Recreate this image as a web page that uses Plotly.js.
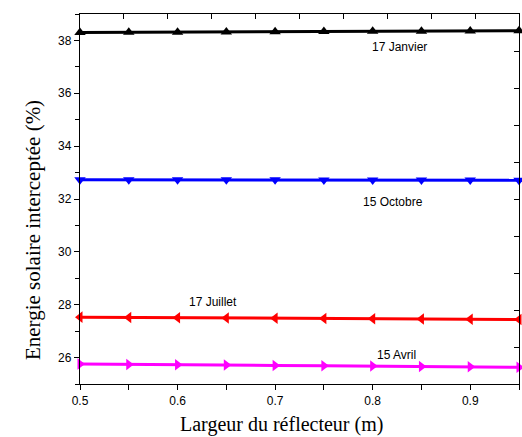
<!DOCTYPE html>
<html>
<head>
<meta charset="utf-8">
<script src="https://cdn.plot.ly/plotly-3.0.1.min.js"></script>
<style>html,body{margin:0;padding:0;background:#fff;}</style>
</head>
<body>
<div id="chart" style="width:522px;height:437px;"></div>
<script>
const largeur = [0.5, 0.55, 0.6, 0.65, 0.7, 0.75, 0.8, 0.85, 0.9, 0.95];
const janvier = [38.30, 38.31, 38.31, 38.32, 38.33, 38.34, 38.35, 38.35, 38.36, 38.37];
const octobre = [32.73, 32.73, 32.73, 32.73, 32.73, 32.72, 32.72, 32.72, 32.72, 32.71];
const juillet = [27.53, 27.52, 27.51, 27.50, 27.49, 27.48, 27.47, 27.46, 27.45, 27.44];
const avril   = [25.76, 25.74, 25.73, 25.72, 25.70, 25.69, 25.68, 25.66, 25.65, 25.63];
const seriesNames = ["17 Janvier", "15 Octobre", "17 Juillet", "15 Avril"];
const labelPos = [[0.828, 37.74], [0.821, 31.9], [0.636, 28.09], [0.824, 26.09]];
const topTicks = [0.5, 0.545, 0.59, 0.635, 0.68, 0.725, 0.77, 0.815, 0.86, 0.905, 0.95];
const rightTicks = [25, 26.4, 27.8, 29.2, 30.6, 32, 33.4, 34.8, 36.2, 37.6, 39];

const colors = ["#000000", "#0000ff", "#ff0000", "#ff00ff"];
const symbols = ["triangle-up", "triangle-down", "triangle-left", "triangle-right"];
const ys = [janvier, octobre, juillet, avril];

const traces = ys.map((y, i) => ({
  x: largeur, y: y, type: "scatter", mode: "lines+markers",
  name: seriesNames[i],
  line: {color: colors[i], width: 3},
  marker: {symbol: symbols[i], size: 10, color: colors[i]},
  cliponaxis: false,
  showlegend: false
}));
traces.push({x: [0.5], y: [25], xaxis: "x2", yaxis: "y2", mode: "markers", marker: {opacity: 0}, showlegend: false, hoverinfo: "skip"});

const tickFont = {family: "Liberation Sans, Arial, sans-serif", size: 12, color: "#000"};
const xTitleFont = {family: "Liberation Serif, Times New Roman, serif", size: 20, color: "#000"};
const yTitleFont = {family: "Liberation Serif, Times New Roman, serif", size: 21, color: "#000"};

const annotations = seriesNames.map((n, i) => ({
  text: n, x: labelPos[i][0], y: labelPos[i][1], xref: "x", yref: "y",
  showarrow: false, font: tickFont, xanchor: "center", yanchor: "middle"
}));
annotations.push({text: "Largeur du réflecteur (m)", xref: "paper", yref: "paper",
  x: 0.458, y: -0.11, showarrow: false, font: xTitleFont, xanchor: "center", yanchor: "middle"});
annotations.push({text: "Energie solaire interceptée (%)", xref: "paper", yref: "paper",
  x: -0.107, y: 0.416, showarrow: false, font: yTitleFont, textangle: -90, xanchor: "center", yanchor: "middle"});

const layout = {
  width: 522, height: 437,
  margin: {l: 80, r: 3, t: 14, b: 53},
  paper_bgcolor: "#fff", plot_bgcolor: "#fff",
  showlegend: false,
  xaxis: {
    range: [0.5, 0.95], tick0: 0.5, dtick: 0.1, ticks: "outside", ticklen: 5, tickwidth: 1,
    tickcolor: "#000", showline: true, linecolor: "#000", linewidth: 1.2, mirror: true,
    showgrid: false, zeroline: false, tickfont: tickFont,
    minor: {tick0: 0.5, dtick: 0.05, ticks: "outside", ticklen: 5, tickcolor: "#000", showgrid: false}
  },
  yaxis: {
    range: [25, 39], tick0: 26, dtick: 2, ticks: "outside", ticklen: 5, tickwidth: 1,
    tickcolor: "#000", showline: true, linecolor: "#000", linewidth: 1.2, mirror: true,
    showgrid: false, zeroline: false, tickfont: tickFont,
    minor: {tick0: 25, dtick: 1, ticks: "outside", ticklen: 4, tickcolor: "#000", showgrid: false}
  },
  xaxis2: {
    overlaying: "x", side: "top", range: [0.5, 0.95], tickmode: "array", tickvals: topTicks,
    ticks: "inside", ticklen: 5, tickcolor: "#000", showticklabels: false, showline: false,
    showgrid: false, zeroline: false
  },
  yaxis2: {
    overlaying: "y", side: "right", range: [25, 39], tickmode: "array", tickvals: rightTicks,
    ticks: "inside", ticklen: 5, tickcolor: "#000", showticklabels: false, showline: false,
    showgrid: false, zeroline: false
  },
  annotations: annotations
};

Plotly.newPlot("chart", traces, layout, {displayModeBar: false, staticPlot: true});
</script>
</body>
</html>
